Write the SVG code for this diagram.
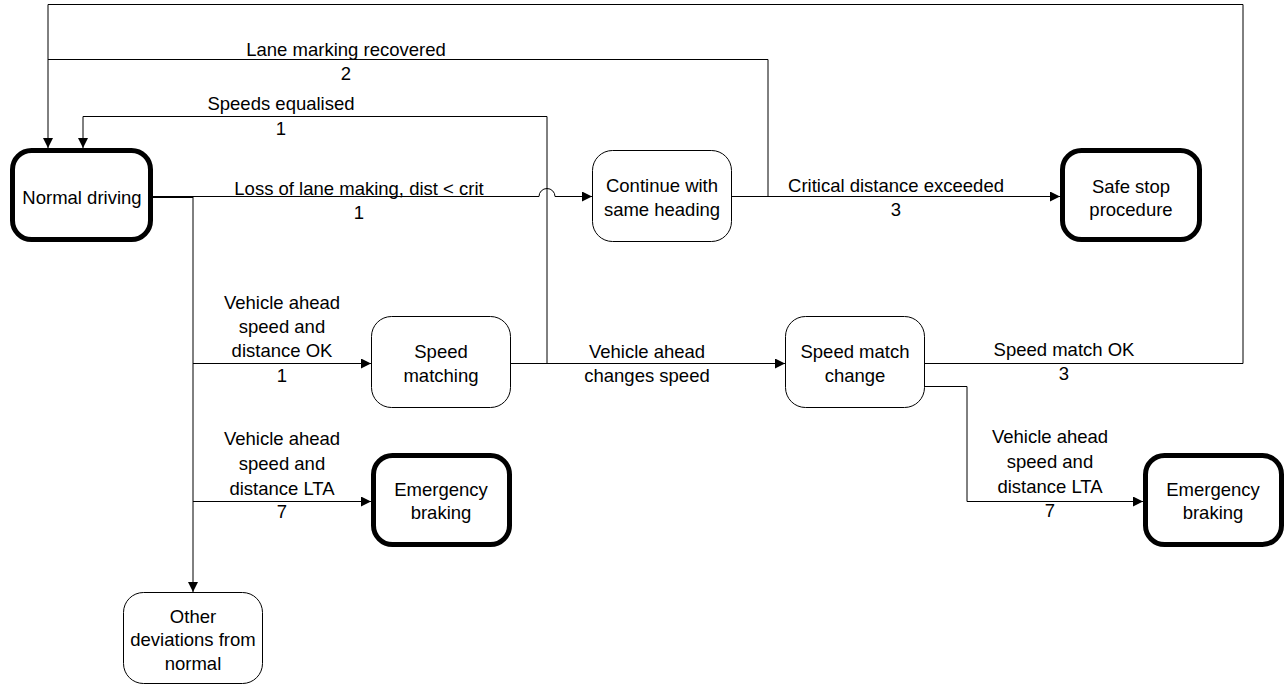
<svg xmlns="http://www.w3.org/2000/svg" width="1285" height="685" viewBox="0 0 1285 685">
  <style>
    .state { fill: #fff; stroke: #000; stroke-width: 1; }
    .final { fill: #fff; stroke: #000; stroke-width: 5; }
    .wire { fill: none; stroke: #000; stroke-width: 1; }
    text { font-family: "Liberation Sans", Arial, sans-serif; font-size: 18.5px; fill: #000; text-anchor: middle; }
  </style>
  <defs>
    <marker id="arrow" markerUnits="userSpaceOnUse" markerWidth="11" markerHeight="11" refX="10" refY="5" orient="auto">
      <path d="M0,0 L10,5 L0,10 z" fill="#000"/>
    </marker>
  </defs>

  <rect width="1285" height="685" fill="#fff"/>

  <!-- transitions -->
  <g id="connectors">
    <!-- Speed match change -> Normal driving (over the top) -->
    <path class="wire" d="M925,363.5 H1243 V4.5 H48 V148" marker-end="url(#arrow)"/>
    <!-- Continue with same heading -> Normal driving -->
    <path class="wire" d="M768,196.5 V59.5 H48"/>
    <!-- Speed matching -> Normal driving -->
    <path class="wire" d="M511,363.5 H547 V116.5 H83 V148" marker-end="url(#arrow)"/>
    <!-- Normal driving -> Continue with same heading (hops over the vertical at x=547) -->
    <path class="wire" d="M153,196.5 H539 A8,8 0 0 1 555,196.5 H592" marker-end="url(#arrow)"/>
    <path class="wire" d="M153,197.5 H193"/>
    <!-- Normal driving -> Other deviations, with branches -->
    <path class="wire" d="M193,196.5 V592" marker-end="url(#arrow)"/>
    <path class="wire" d="M193,363.5 H371" marker-end="url(#arrow)"/>
    <path class="wire" d="M193,501.5 H371" marker-end="url(#arrow)"/>
    <!-- Continue with same heading -> Safe stop -->
    <path class="wire" d="M731,196.5 H1060" marker-end="url(#arrow)"/>
    <!-- Speed matching -> Speed match change -->
    <path class="wire" d="M511,363.5 H785" marker-end="url(#arrow)"/>
    <!-- Speed match change -> Emergency braking (right) -->
    <path class="wire" d="M925,386.5 H967 V501.5 H1143" marker-end="url(#arrow)"/>

    <!-- labels -->
    <text x="346" y="56">Lane marking recovered</text>
    <text x="346" y="80">2</text>
    <text x="281" y="110">Speeds equalised</text>
    <text x="281" y="135">1</text>
    <text x="359" y="195">Loss of lane making, dist &lt; crit</text>
    <text x="359" y="219">1</text>
    <text x="896" y="192">Critical distance exceeded</text>
    <text x="896" y="216">3</text>
    <text x="282" y="309">Vehicle ahead</text>
    <text x="282" y="333">speed and</text>
    <text x="282" y="357">distance OK</text>
    <text x="282" y="382">1</text>
    <text x="282" y="445">Vehicle ahead</text>
    <text x="282" y="470">speed and</text>
    <text x="282" y="495">distance LTA</text>
    <text x="282" y="518">7</text>
    <text x="647" y="358">Vehicle ahead</text>
    <text x="647" y="382">changes speed</text>
    <text x="1064" y="356">Speed match OK</text>
    <text x="1064" y="380">3</text>
    <text x="1050" y="443">Vehicle ahead</text>
    <text x="1050" y="468">speed and</text>
    <text x="1050" y="493">distance LTA</text>
    <text x="1050" y="517">7</text>
  </g>

  <!-- states -->
  <g id="normal-driving">
    <rect class="final" x="12.5" y="150.5" width="138" height="89" rx="19"/>
    <text x="82" y="204">Normal driving</text>
  </g>
  <g id="continue-heading">
    <rect class="state" x="592.5" y="150.5" width="139" height="91" rx="20"/>
    <text x="662" y="192">Continue with</text>
    <text x="662" y="216">same heading</text>
  </g>
  <g id="safe-stop">
    <rect class="final" x="1062.5" y="150.5" width="137" height="89" rx="19"/>
    <text x="1131" y="193">Safe stop</text>
    <text x="1131" y="216">procedure</text>
  </g>
  <g id="speed-matching">
    <rect class="state" x="371.5" y="316.5" width="139" height="91" rx="20"/>
    <text x="441" y="358">Speed</text>
    <text x="441" y="382">matching</text>
  </g>
  <g id="speed-match-change">
    <rect class="state" x="785.5" y="316.5" width="139" height="91" rx="20"/>
    <text x="855" y="358">Speed match</text>
    <text x="855" y="382">change</text>
  </g>
  <g id="emergency-braking-1">
    <rect class="final" x="373.5" y="455.5" width="136" height="89" rx="19"/>
    <text x="441" y="496">Emergency</text>
    <text x="441" y="519">braking</text>
  </g>
  <g id="emergency-braking-2">
    <rect class="final" x="1145.5" y="455.5" width="136" height="89" rx="19"/>
    <text x="1213" y="496">Emergency</text>
    <text x="1213" y="519">braking</text>
  </g>
  <g id="other-deviations">
    <rect class="state" x="123.5" y="592.5" width="139" height="91" rx="20"/>
    <text x="193" y="623">Other</text>
    <text x="193" y="646">deviations from</text>
    <text x="193" y="670">normal</text>
  </g>
</svg>
